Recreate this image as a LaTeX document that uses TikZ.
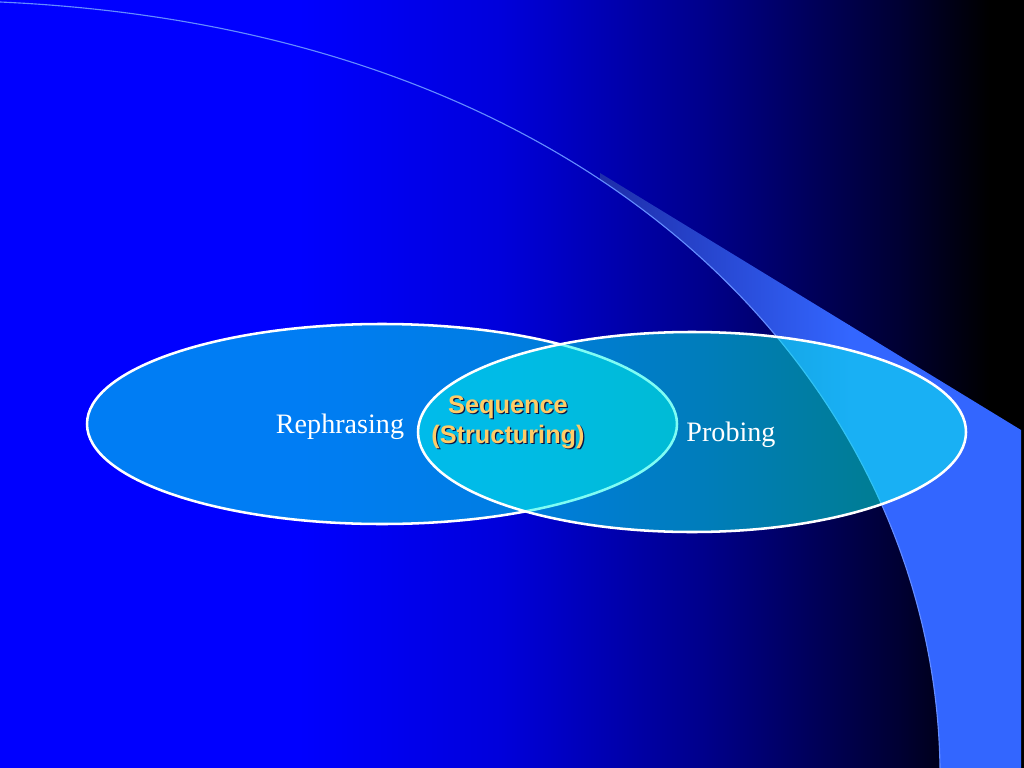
\documentclass[tikz,border=0pt]{standalone}
\usepackage{fontspec}
\setmainfont{Liberation Serif}
\setsansfont{Liberation Sans}

\definecolor{swooshblue}{RGB}{51,102,255}
\definecolor{tipblue}{RGB}{30,45,170}
\definecolor{swooshline}{RGB}{100,140,255}
\definecolor{ringfill}{RGB}{0,250,235}
\definecolor{seqyellow}{RGB}{255,204,102}
\definecolor{seqshadow}{RGB}{10,20,70}

% slide background, blue on the left and black on the right
\pgfdeclarehorizontalshading{slidebg}{100bp}{rgb(0bp)=(0,0,1); rgb(39.6bp)=(0,0,1);
    rgb(49.4bp)=(0,0,0.86); rgb(59.2bp)=(0,0,0.55); rgb(68.9bp)=(0,0,0.2);
    rgb(73.3bp)=(0,0,0); rgb(100bp)=(0,0,0)}

\newcommand{\shadowed}[1]{\leavevmode\rlap{\hspace{0.9pt}\raisebox{-0.9pt}{\color{seqshadow}#1}}#1}

\tikzset{
    ring/.style={fill=ringfill, fill opacity=0.5, draw=white, line width=1.8pt},
    wordlabel/.style={text=white, anchor=base, font=\fontsize{20}{24}\selectfont},
    seqlabel/.style={text=seqyellow, align=center,
        font=\sffamily\bfseries\fontsize{18}{21.3}\selectfont}
}

\begin{document}
\begin{tikzpicture}[x=0.025cm, y=-0.025cm]
    \useasboundingbox (0,0) rectangle (1024,768);
    \shade[shading=slidebg] (0,0) rectangle (1024,768);

    \begin{scope}
        \clip (0,2) .. controls (620,30) and (935,400) .. (940,768)
            -- (1024,768) -- (1024,0) -- cycle;
        \clip (600,173) -- (1021,430) -- (1021,768) -- (600,768) -- cycle;
        \shade[left color=tipblue, right color=swooshblue]
            (600,150) rectangle (850,768);
        \fill[swooshblue] (849,150) rectangle (1024,768);
    \end{scope}
    \draw[swooshline, line width=0.8pt]
        (0,2) .. controls (620,30) and (935,400) .. (940,768);

    \draw[ring] (382,424) ellipse [x radius=295, y radius=100];
    \draw[ring] (692,432) ellipse [x radius=274, y radius=100];

    \node[wordlabel] (rephrasing) at (340,433) {Rephrasing};
    \node[wordlabel] (probing) at (731,441) {Probing};
    \node[seqlabel] (sequence) at (508,423)
        {\shadowed{Sequence}\\\shadowed{(Structuring)}};
\end{tikzpicture}
\end{document}
